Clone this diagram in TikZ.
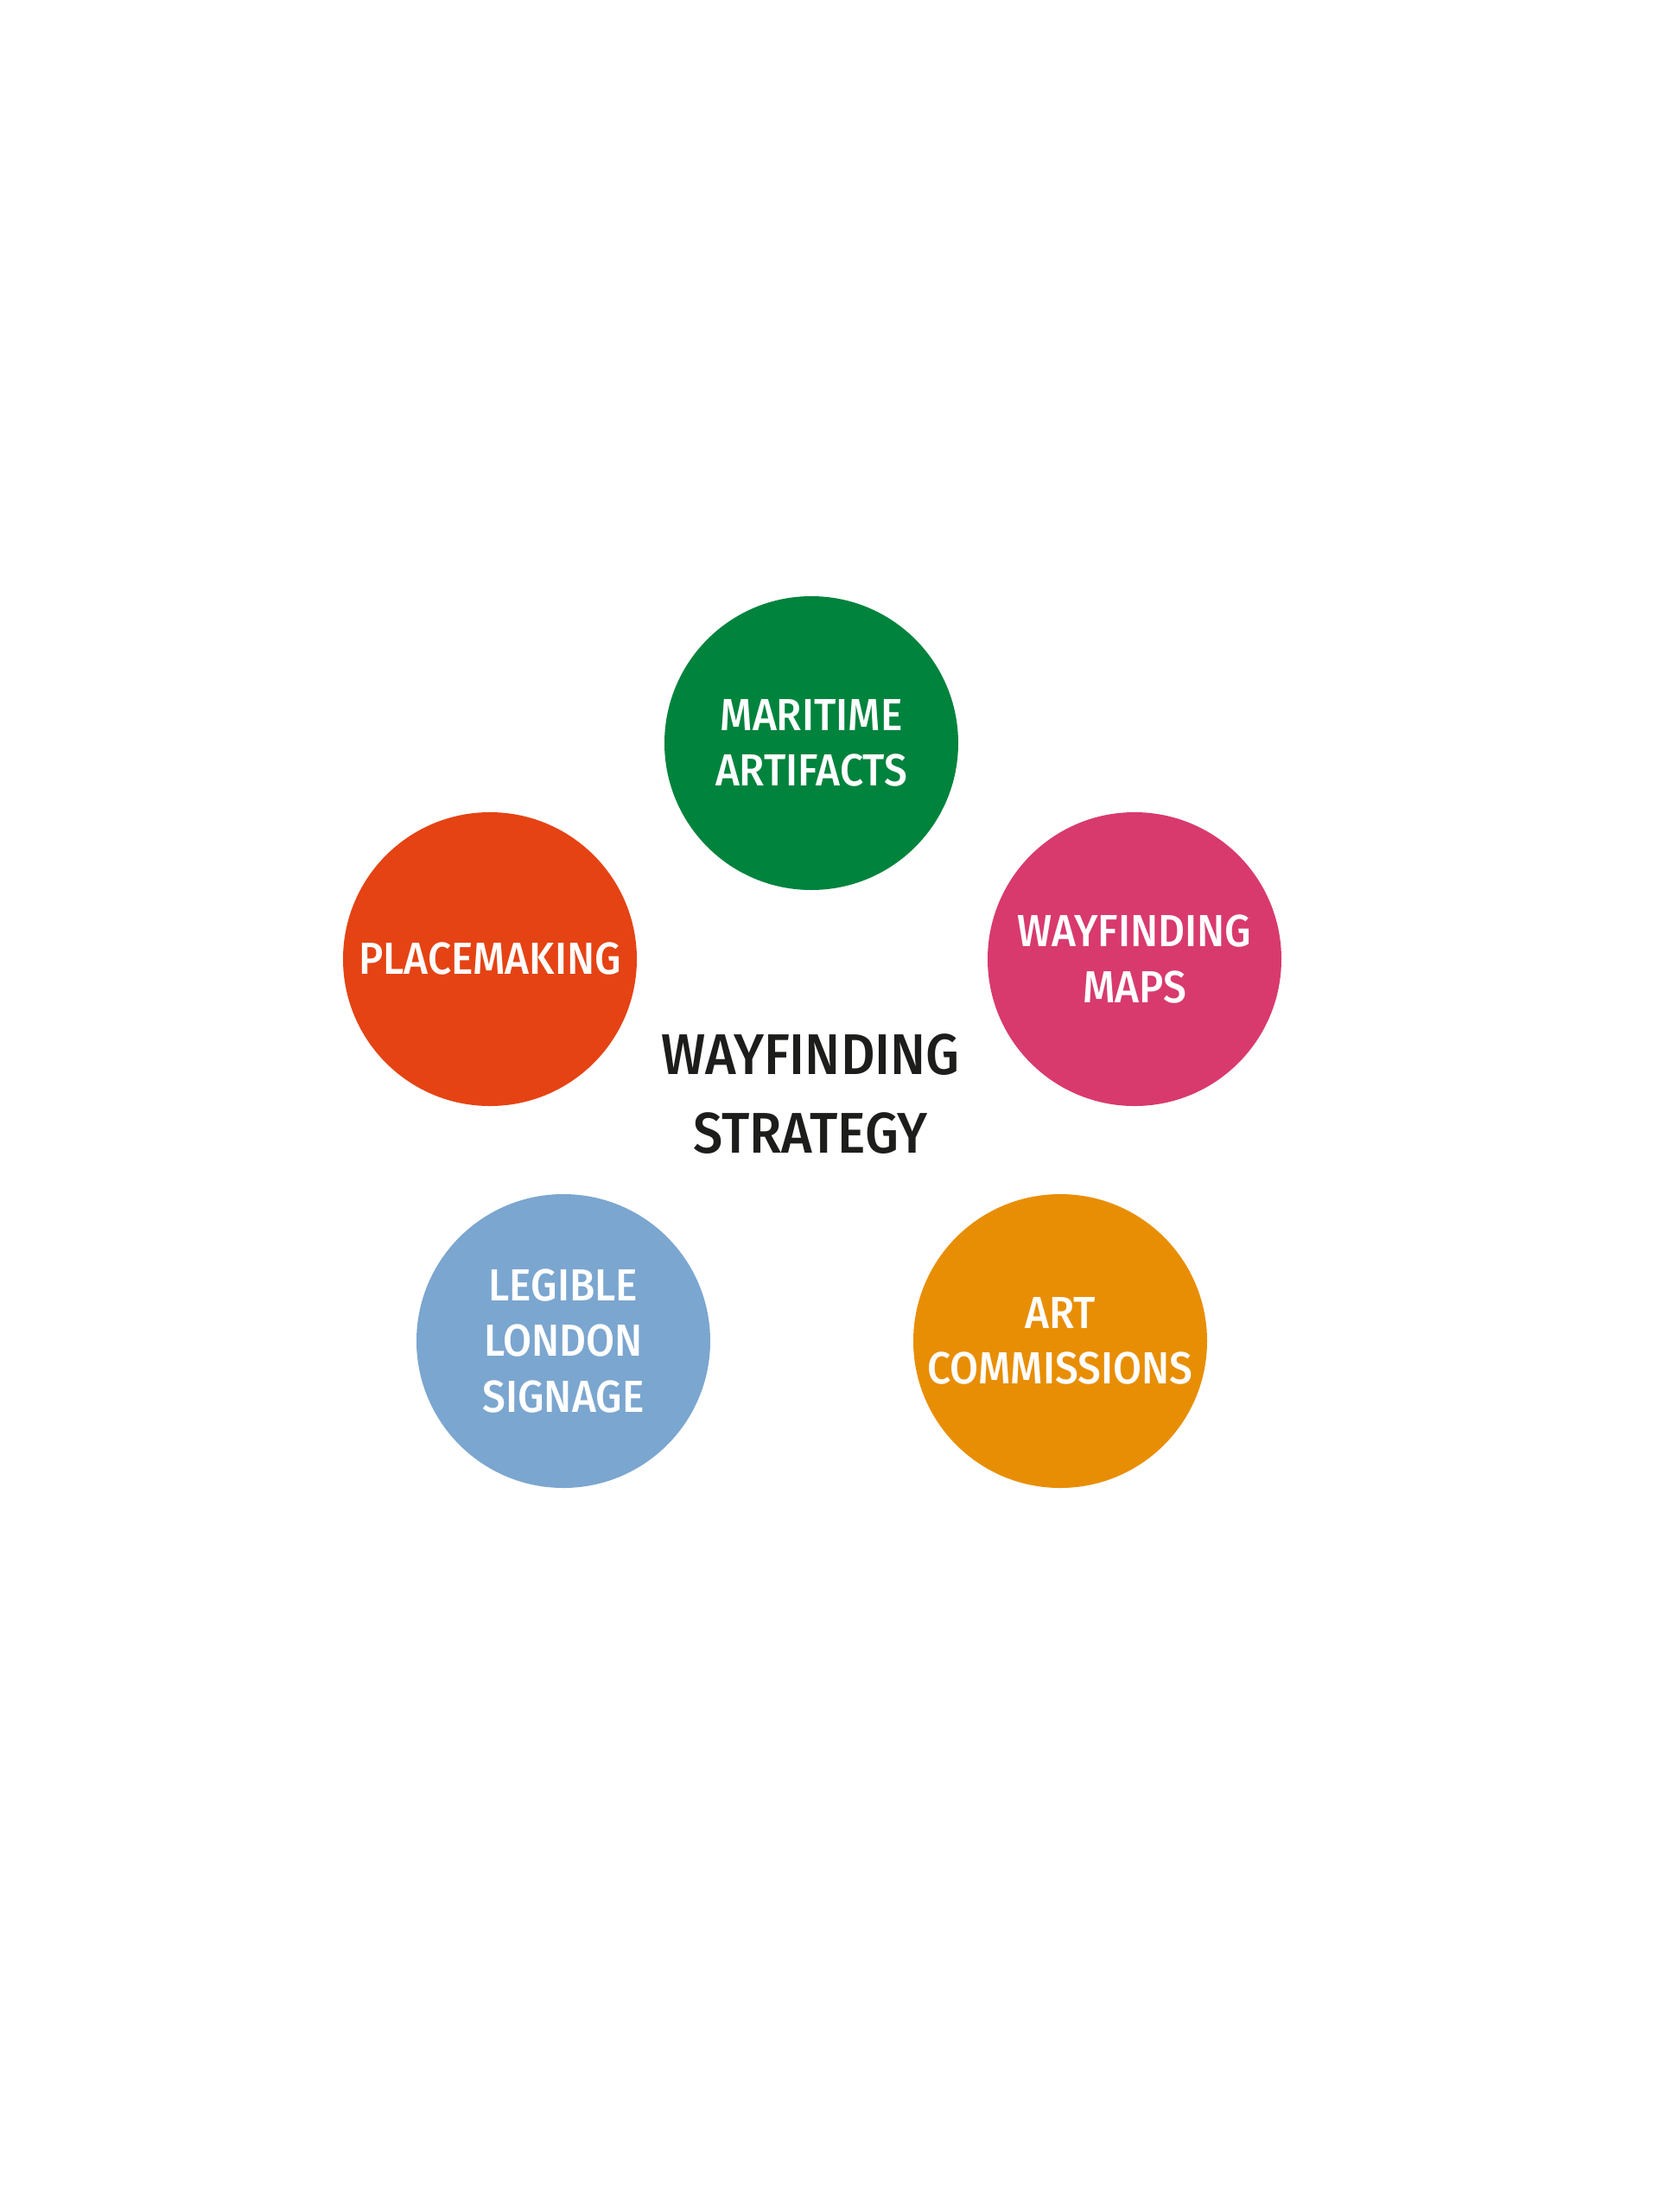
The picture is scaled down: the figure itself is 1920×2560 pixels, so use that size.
\documentclass[tikz,border=0pt]{standalone}
\usepackage{fontspec}
\setmainfont{Fira Sans}[UprightFont=* Medium, BoldFont=* SemiBold, FakeStretch=0.92]
\definecolor{cgreen}{RGB}{0,131,61}
\definecolor{cred}{RGB}{229,67,20}
\definecolor{cpink}{RGB}{216,58,110}
\definecolor{cblue}{RGB}{123,166,207}
\definecolor{corange}{RGB}{232,142,5}
\definecolor{cink}{RGB}{29,29,27}
\begin{document}
\begin{tikzpicture}[x=0.1mm,y=-0.1mm,
  bubble/.style={circle, minimum size=34mm, inner sep=0pt},
  btext/.style={text=white, align=center, inner sep=0pt,
    font=\fontsize{14.8}{18.4}\selectfont},
  title/.style={align=center, text=cink, font=\fontsize{18.9}{26.1}\selectfont}]
\useasboundingbox[fill=white] (0,0) rectangle (1920,2560);
\node[bubble, fill=cgreen] (mar) at (939,860) {};
\node[bubble, fill=cred] (place) at (567,1110) {};
\node[bubble, fill=cpink] (maps) at (1313,1110) {};
\node[bubble, fill=cblue] (leg) at (652,1552) {};
\node[bubble, fill=corange] (art) at (1227,1552) {};
\node[btext] (martext) at (mar.center) {MARITIME\\ARTIFACTS};
\node[btext] (placetext) at (place.center) {PLACEMAKING};
\node[btext] (mapstext) at (maps.center) {WAYFINDING\\MAPS};
\node[btext] (legtext) at (leg.center) {LEGIBLE\\LONDON\\SIGNAGE};
\node[btext] (arttext) at (art.center) {ART\\COMMISSIONS};
\node[title] (ctr) at (938,1266) {WAYFINDING\\STRATEGY};
\end{tikzpicture}
\end{document}
